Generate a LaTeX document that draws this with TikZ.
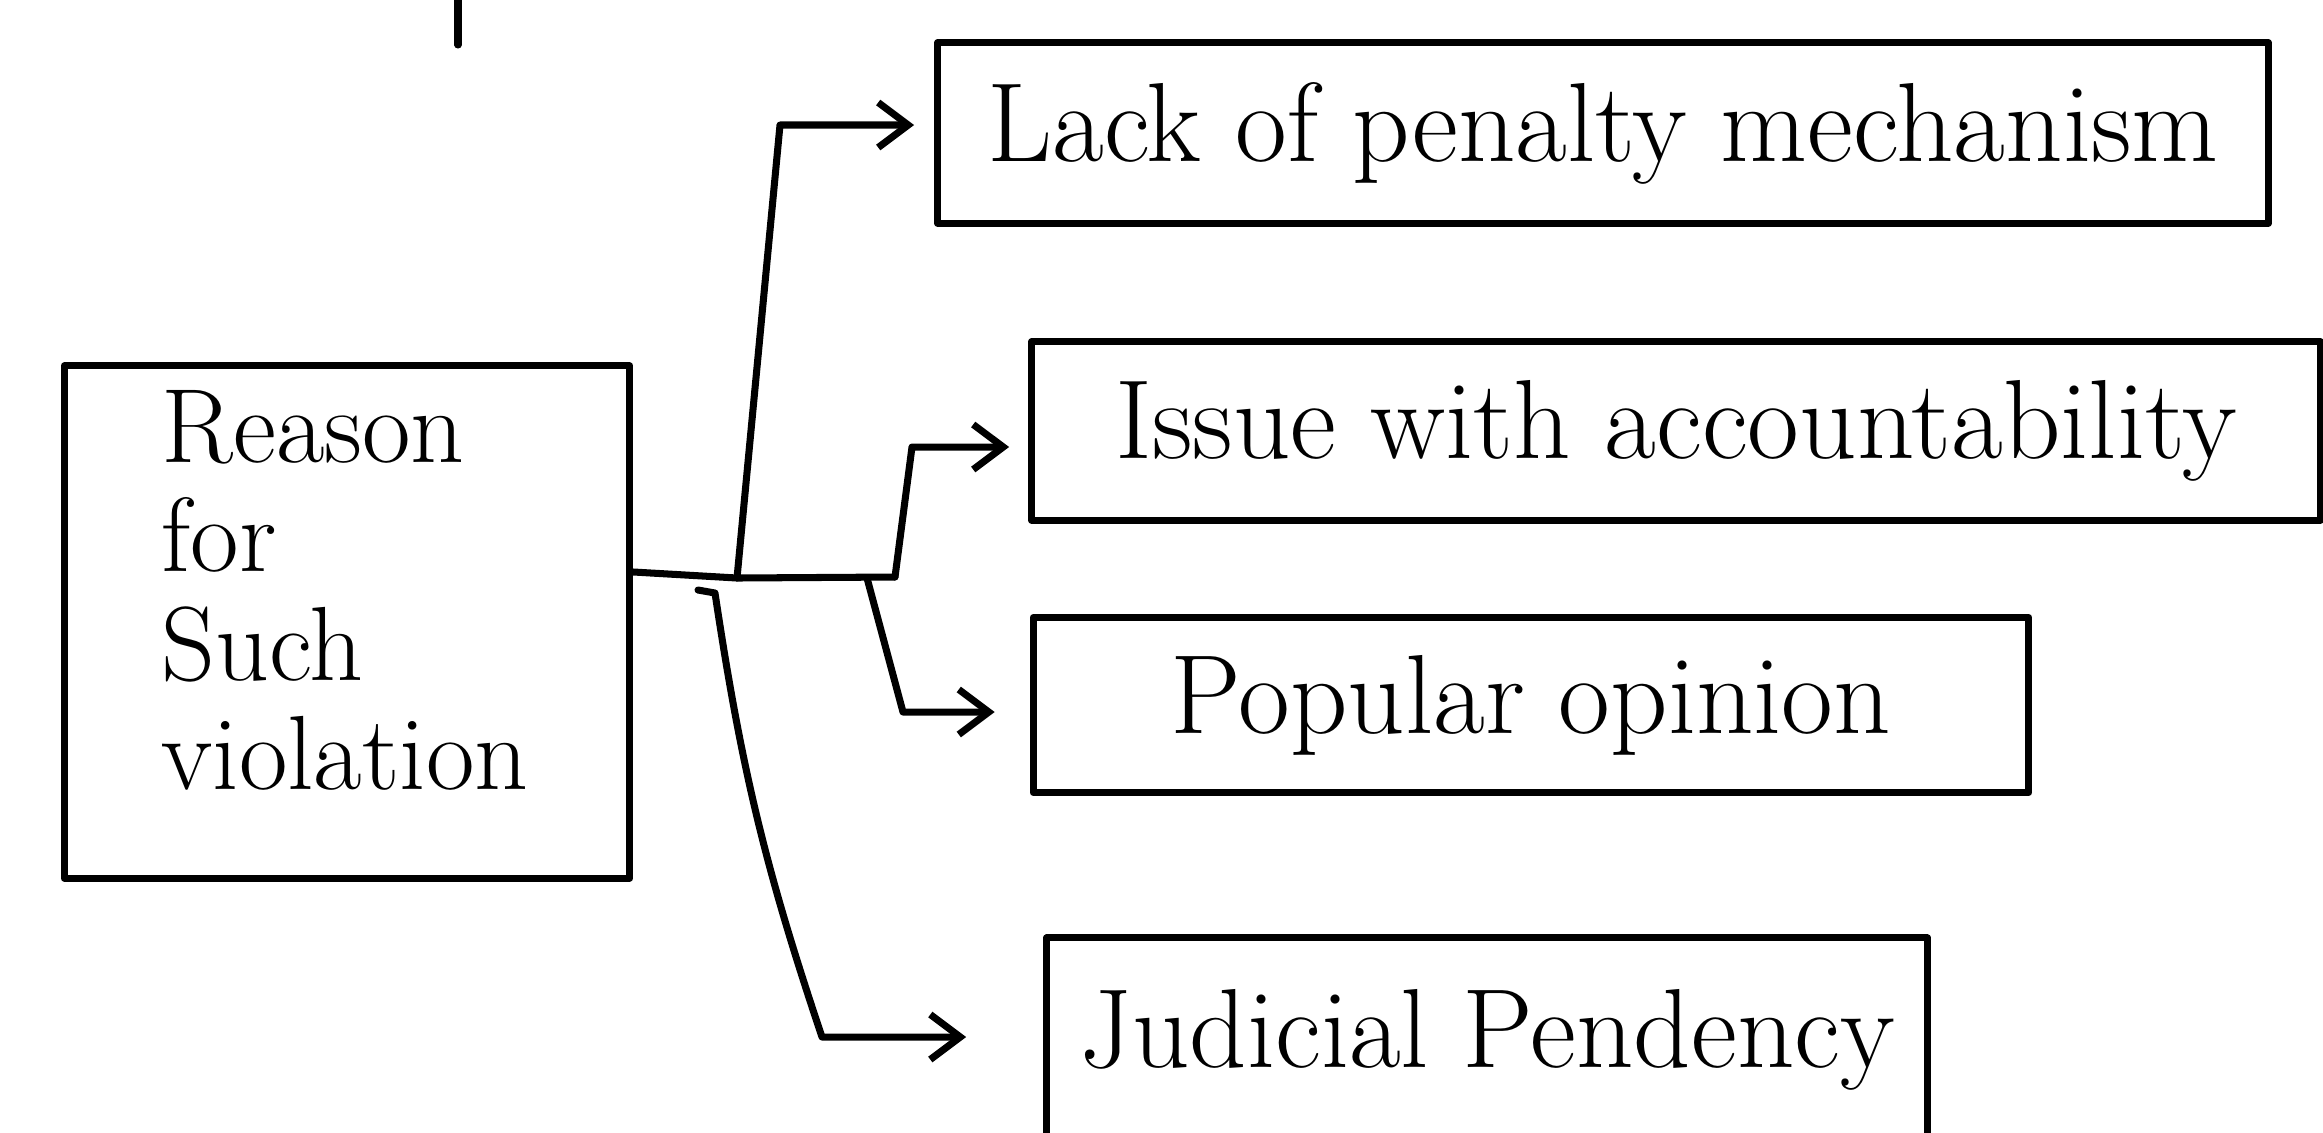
\documentclass[tikz,border=0pt]{standalone}
\usepackage{tikz}
\usetikzlibrary{arrows.meta}
\usetikzlibrary{calc}

\begin{document}
\begin{tikzpicture}[x=0.01cm,y=-0.01cm,>/.tip={Straight Barb[length=3mm,width=4.5mm]},
	line width=2pt,line cap=round,line join=round]
	\useasboundingbox (0,0) rectangle (2323,1132);
	\tikzset{causebox/.style={draw,shape=rectangle,inner sep=0pt,font=\fontsize{32}{33}\selectfont}}

	\draw (347,622) node (reason) [causebox,minimum width=5.65cm,minimum height=5.12cm] {};
	\node [align=left,font=\fontsize{30}{31}\selectfont] (reasontext) at (345,590) {Reason\\for\\Such\\violation};

	\draw (1603,133) node (lack) [causebox,minimum width=13.3cm,minimum height=1.8cm] {Lack of penalty mechanism};
	\draw (1676,431) node (issue) [causebox,minimum width=12.88cm,minimum height=1.78cm] {Issue with accountability};
	\draw (1531,705) node (popular) [causebox,minimum width=9.95cm,minimum height=1.75cm] {Popular opinion};
	\draw (1487,1040) node (judicial) [causebox,minimum width=8.8cm,minimum height=2.04cm] {Judicial Pendency};

	% junctions and corners
	\coordinate (ja) at (737,578);
	\coordinate (jb) at (895,577);
	\coordinate (jc) at (867,578);
	\coordinate (jd) at (715,593);
	\coordinate (hook) at (698,590);
	\coordinate (ka) at (780,125);
	\coordinate (kb) at (912,447);
	\coordinate (kc) at (903,712);
	\coordinate (kd) at (822,1037);
	\coordinate (stroketop) at (458,0);
	\coordinate (strokeend) at (458,45);

	\draw (stroketop) -- (strokeend);
	\draw ([yshift=0.5cm]reason.east) -- (ja) -- (jb);
	\draw[->,shorten >=0.2cm] (ja) -- (ka) -- (ka -| lack.west);
	\draw[->,shorten >=0.19cm] (jb) -- (kb) -- (kb -| issue.west);
	\draw[->,shorten >=0.35cm] (jc) -- (kc) -- (kc -| popular.west);
	\draw[->,shorten >=0.77cm] (hook) -- (jd) to[bend right=5] (kd) -- (kd -| judicial.west);
\end{tikzpicture}
\end{document}
